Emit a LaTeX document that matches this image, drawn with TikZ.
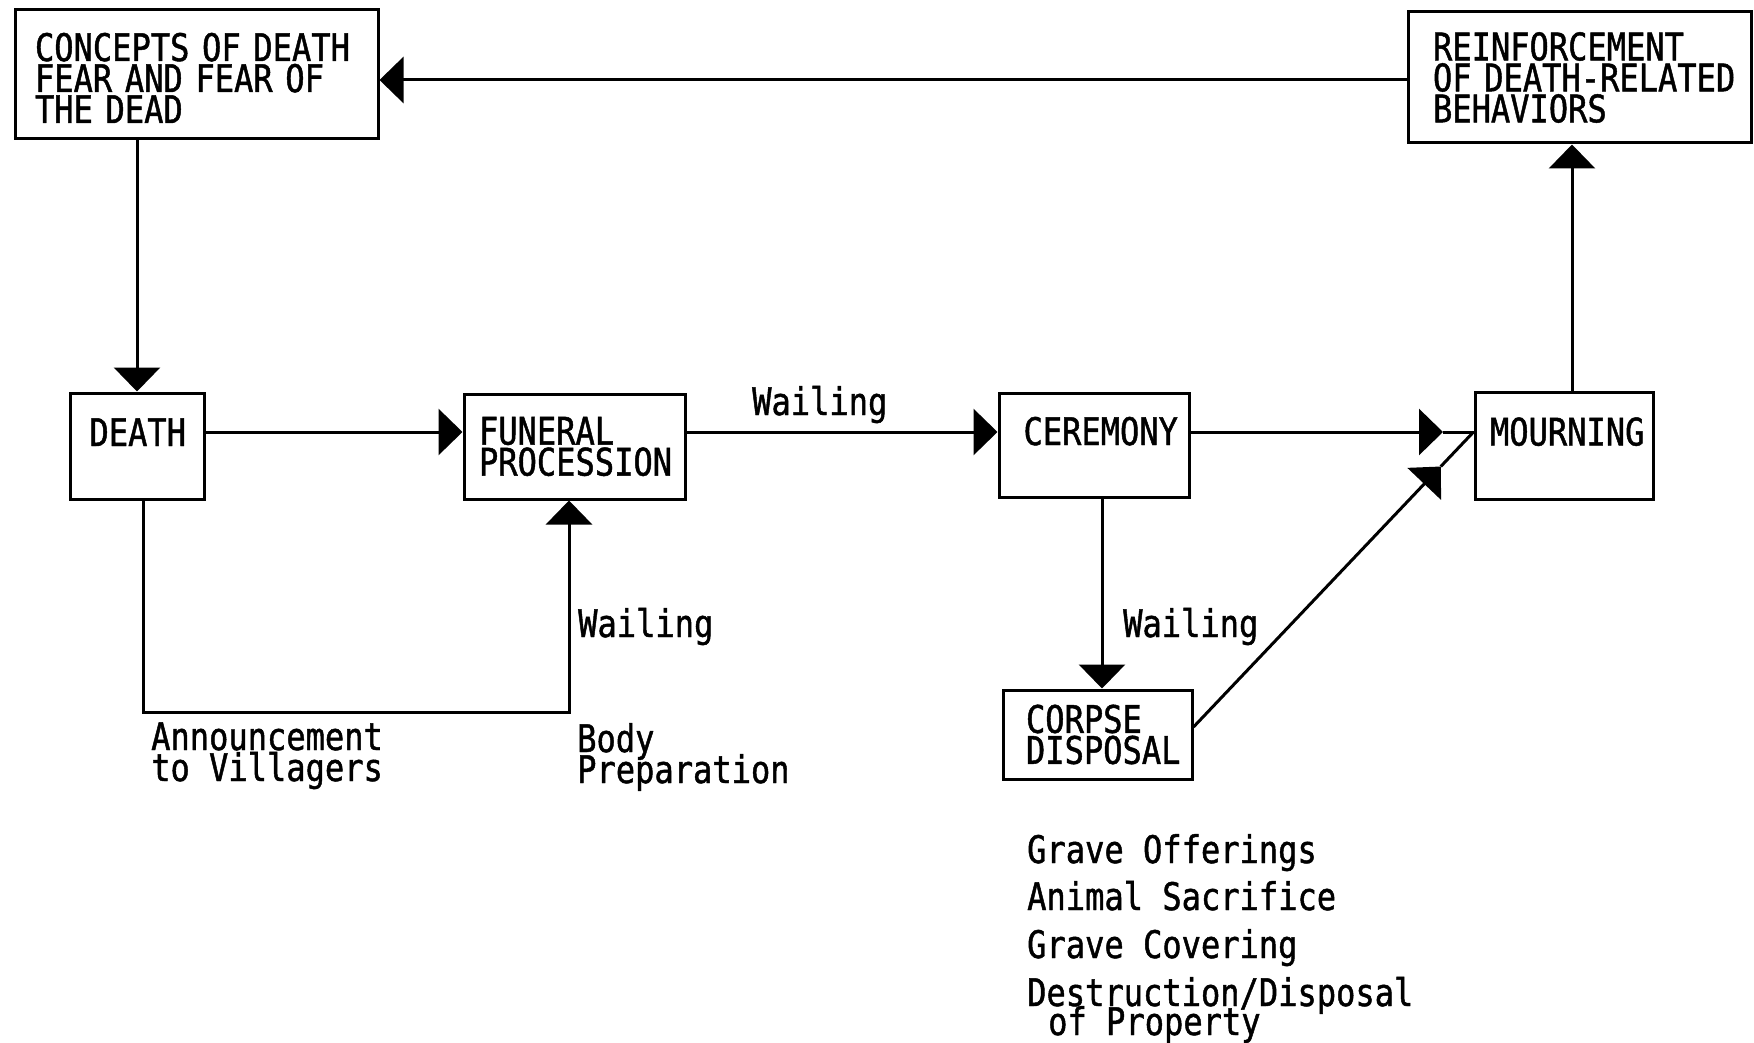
\documentclass[tikz,border=0pt]{standalone}
\usepackage{fontspec}
\usetikzlibrary{arrows.meta,calc}
\newfontfamily\plotfont[FakeStretch=0.844,FakeBold=1.2]{DejaVu Sans Mono}
\newcommand\plotsetup{\plotfont\fontsize{38pt}{31pt}\selectfont\lineskiplimit=-60pt\relax\lineskip=0pt\relax}
\begin{document}
\begin{tikzpicture}[x=1pt,y=-1pt,
  every node/.style={font=\plotsetup, inner sep=0pt},
  box/.style={draw, line width=3pt, rectangle, align=left},
  ln/.style={line width=3pt},
  arr/.style={ln, -{Triangle[length=24pt,width=46pt]}},
  one/.style={text height=14pt, text depth=14pt},
]
\useasboundingbox (0,0) rectangle (1754,1043);

% boxes
\node[box, minimum width=363pt, minimum height=129pt, text width=323pt, inner xsep=20pt]
  (concepts) at (196.5,74.5) {\rule{0pt}{35pt}\mbox{CONCEPTS OF DEATH}\\\mbox{FEAR AND FEAR OF}\\\mbox{THE DEAD}};
\node[box, minimum width=343pt, minimum height=131pt, text width=293pt, inner xsep=25pt]
  (reinf) at (1579.5,77.5) {\mbox{REINFORCEMENT}\\\mbox{OF DEATH-RELATED}\\\mbox{BEHAVIORS}};
\node[box, one, minimum width=134pt, minimum height=106pt, text width=95pt, inner xsep=19.5pt]
  (death) at (137,446) {\mbox{DEATH}};
\node[box, minimum width=221pt, minimum height=105pt, text width=191pt, inner xsep=15pt]
  (funeral) at (574.5,446.5) {\mbox{FUNERAL}\\\mbox{PROCESSION}};
\node[box, one, minimum width=190pt, minimum height=104pt, text width=141pt, inner xsep=24.5pt]
  (ceremony) at (1094,445) {\mbox{CEREMONY}};
\node[box, one, minimum width=178pt, minimum height=107pt, text width=148pt, inner xsep=15pt]
  (mourning) at (1564,445.5) {\mbox{MOURNING}};
\node[box, minimum width=189pt, minimum height=89pt, text width=143pt, inner xsep=23pt]
  (corpse) at (1097.5,734.5) {\mbox{CORPSE}\\\mbox{DISPOSAL}};

% helper coordinates
\coordinate (row) at (0,432);
\coordinate (topy) at (0,80);
\coordinate (lp) at (143,712);
\coordinate (rp) at (569,712);
\coordinate (colr) at (1572,0);
\coordinate (colc) at (1102,0);
\coordinate (tipA) at (1443,432);
\coordinate (join) at (mourning.west |- row);
\coordinate (cstart) at ([yshift=7.5pt]corpse.east);
\coordinate (tipB) at ($(cstart)!0.883!(join)$);

% connectors
\draw[arr] (reinf.west |- topy) -- (concepts.east |- topy);
\draw[arr] (concepts.south -| death.north) -- (death.north);
\draw[arr] (death.east |- row) -- (funeral.west |- row);
\draw[arr] (funeral.east |- row) -- (ceremony.west |- row);
\draw[arr] (ceremony.east |- row) -- (tipA);
\draw[ln] (tipA) -- (join);
\draw[arr] (cstart) -- (tipB);
\draw[ln] (tipB) -- (join);
\draw[arr] (mourning.north -| colr) -- (reinf.south -| colr);
\draw[arr] (death.south -| lp) -- (lp) -- (rp) -- (funeral.south -| rp);
\draw[arr] (ceremony.south -| colc) -- (corpse.north -| colc);

% labels
\node[anchor=base west] (w1) at (752,415) {Wailing};
\node[anchor=base west] (w2) at (578,637) {Wailing};
\node[anchor=base west] (w3) at (1123,637) {Wailing};
\node[anchor=base west, align=left] (ann) at (151,781) {Announcement\\to Villagers};
\node[anchor=base west, align=left] (body) at (577,783) {Body\\Preparation};
\node[anchor=base west] (g1) at (1027,863) {Grave Offerings};
\node[anchor=base west] (g2) at (1027,910) {Animal Sacrifice};
\node[anchor=base west] (g3) at (1027,958) {Grave Covering};
\node[anchor=base west, align=left] (g4) at (1027,1035) {Destruction/Disposal\\[-2pt]\hspace*{21pt}of Property};
\end{tikzpicture}
\end{document}
